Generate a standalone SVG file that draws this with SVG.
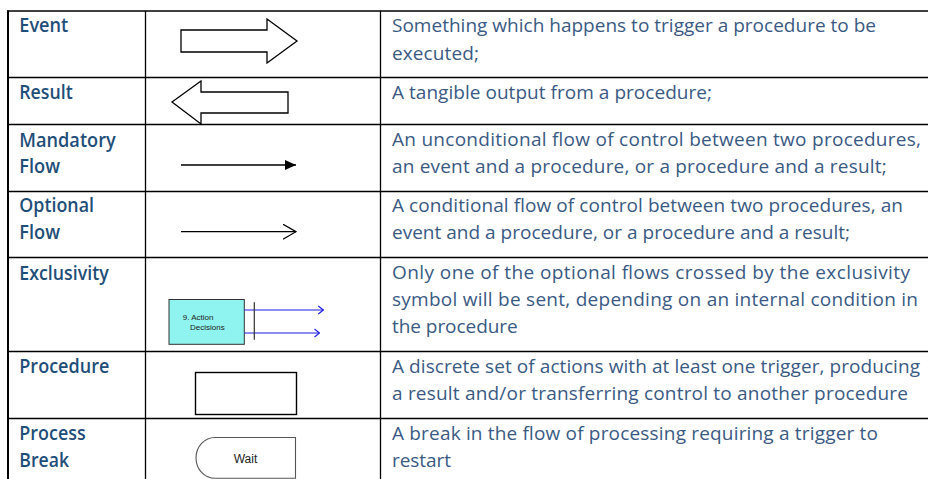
<svg xmlns="http://www.w3.org/2000/svg" width="928" height="479" viewBox="0 0 928 479">
  <style>
    .grid { stroke: #000; stroke-width: 1.3; fill: none; }
    .term { font-family: "Open Sans", "Liberation Sans", sans-serif; font-size: 19.5px; font-weight: 600; fill: #1F4E79; }
    .desc { font-family: "Open Sans", "Liberation Sans", sans-serif; font-size: 19px; fill: #3A5A84; }
    .sym { stroke: #000; stroke-width: 1.3; fill: #fff; }
    .small { font-family: "Liberation Sans", Arial, sans-serif; fill: #222; }
    .blue { stroke: #1A1AE6; stroke-width: 1.2; fill: none; }
  </style>
  <defs>
    <marker id="filled" viewBox="0 0 11 10" refX="11" refY="5" markerWidth="11" markerHeight="10" markerUnits="userSpaceOnUse" orient="auto">
      <path d="M0,0 L11,5 L0,10 Z" fill="#000"/>
    </marker>
    <marker id="open" viewBox="0 0 14 16" refX="13.5" refY="8" markerWidth="14" markerHeight="16" markerUnits="userSpaceOnUse" orient="auto">
      <path d="M0.5,0.5 L13.5,8 L0.5,15.5" fill="none" stroke="#000" stroke-width="1.2"/>
    </marker>
    <marker id="blueopen" viewBox="0 0 6 10" refX="5.5" refY="5" markerWidth="6" markerHeight="10" markerUnits="userSpaceOnUse" orient="auto">
      <path d="M0.5,1 L5.5,5 L0.5,9" fill="none" stroke="#1A1AE6" stroke-width="1.1"/>
    </marker>
  </defs>
  <rect x="0" y="0" width="928" height="479" fill="#fff"/>

  <g id="grid" class="grid">
    <path d="M7,11 H928"/>
    <path d="M8,77.5 H928 M8,124.5 H928 M8,191.5 H928 M8,257.5 H928 M8,351.5 H928 M8,418.5 H928"/>
    <path d="M145.5,11 V479 M380.5,11 V479"/>
    <path d="M8,10.5 V479" stroke-width="2"/>
  </g>

  <g id="row-event">
    <text class="term" x="19.3" y="32" textLength="49" lengthAdjust="spacingAndGlyphs">Event</text>
    <polygon class="sym" points="181,30 267,30 267,19 297,41 267,63 267,52 181,52"/>
    <text class="desc" x="392" y="32.3" textLength="484" lengthAdjust="spacing">Something which happens to trigger a procedure to be</text>
    <text class="desc" x="392" y="59.5" textLength="87" lengthAdjust="spacing">executed;</text>
  </g>

  <g id="row-result">
    <text class="term" x="19.3" y="99" textLength="53.4" lengthAdjust="spacingAndGlyphs">Result</text>
    <polygon class="sym" points="172,102 201,81 201,92 288,92 288,113 201,113 201,124"/>
    <text class="desc" x="392" y="99" textLength="320" lengthAdjust="spacing">A tangible output from a procedure;</text>
  </g>

  <g id="row-mandatory">
    <text class="term" x="19.3" y="146.5" textLength="96.4" lengthAdjust="spacingAndGlyphs">Mandatory</text>
    <text class="term" x="19.3" y="173.3" textLength="40.7" lengthAdjust="spacingAndGlyphs">Flow</text>
    <line x1="181" y1="165" x2="296" y2="165" stroke="#000" stroke-width="1.3" marker-end="url(#filled)"/>
    <text class="desc" x="392" y="146" textLength="529" lengthAdjust="spacing">An unconditional flow of control between two procedures,</text>
    <text class="desc" x="392" y="173.3" textLength="494.7" lengthAdjust="spacing">an event and a procedure, or a procedure and a result;</text>
  </g>

  <g id="row-optional">
    <text class="term" x="19.3" y="212.3" textLength="74.7" lengthAdjust="spacingAndGlyphs">Optional</text>
    <text class="term" x="19.3" y="239.3" textLength="40.7" lengthAdjust="spacingAndGlyphs">Flow</text>
    <line x1="181" y1="231.7" x2="296" y2="231.7" stroke="#000" stroke-width="1.3" marker-end="url(#open)"/>
    <text class="desc" x="392" y="212.3" textLength="511" lengthAdjust="spacing">A conditional flow of control between two procedures, an</text>
    <text class="desc" x="392" y="239.3" textLength="458" lengthAdjust="spacing">event and a procedure, or a procedure and a result;</text>
  </g>

  <g id="row-exclusivity">
    <text class="term" x="19.3" y="279.7" textLength="89.4" lengthAdjust="spacingAndGlyphs">Exclusivity</text>
    <rect x="169" y="299.5" width="75.3" height="44.8" fill="#8FF4EF" stroke="#333" stroke-width="1"/>
    <text class="small" x="182.7" y="319.8" font-size="8">9. Action</text>
    <text class="small" x="190" y="329.6" font-size="8">Decisions</text>
    <line class="blue" x1="244.3" y1="310" x2="323.3" y2="310" marker-end="url(#blueopen)"/>
    <line class="blue" x1="244.3" y1="333" x2="319.5" y2="333" marker-end="url(#blueopen)"/>
    <line x1="254.3" y1="302.3" x2="254.3" y2="339.7" stroke="#333" stroke-width="1.2"/>
    <text class="desc" x="392" y="279.3" textLength="518" lengthAdjust="spacing">Only one of the optional flows crossed by the exclusivity</text>
    <text class="desc" x="392" y="306.3" textLength="526" lengthAdjust="spacing">symbol will be sent, depending on an internal condition in</text>
    <text class="desc" x="392" y="333.3" textLength="125.7" lengthAdjust="spacing">the procedure</text>
  </g>

  <g id="row-procedure">
    <text class="term" x="19.3" y="373.3" textLength="90" lengthAdjust="spacingAndGlyphs">Procedure</text>
    <rect x="195.5" y="372.5" width="101" height="42" fill="#fff" stroke="#000" stroke-width="1.4"/>
    <text class="desc" x="392" y="372.7" textLength="528" lengthAdjust="spacing">A discrete set of actions with at least one trigger, producing</text>
    <text class="desc" x="392" y="399.5" textLength="516" lengthAdjust="spacing">a result and/or transferring control to another procedure</text>
  </g>

  <g id="row-process-break">
    <text class="term" x="19.3" y="440" textLength="66.4" lengthAdjust="spacingAndGlyphs">Process</text>
    <text class="term" x="19.3" y="466.7" textLength="49.7" lengthAdjust="spacingAndGlyphs">Break</text>
    <path d="M215,437.5 H295.5 V478.3 H215 A19,20.4 0 0 1 215,437.5 Z" fill="#fff" stroke="#555" stroke-width="1.1"/>
    <text class="small" x="245.5" y="462.5" font-size="12" text-anchor="middle">Wait</text>
    <text class="desc" x="392" y="440" textLength="486" lengthAdjust="spacing">A break in the flow of processing requiring a trigger to</text>
    <text class="desc" x="392" y="466.7" textLength="59" lengthAdjust="spacing">restart</text>
  </g>
</svg>
